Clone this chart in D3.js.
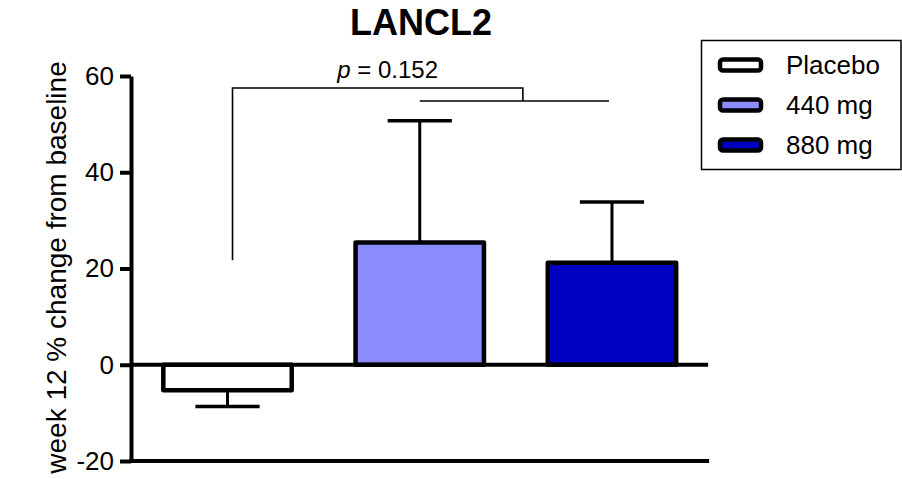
<!DOCTYPE html>
<html>
<head>
<meta charset="utf-8">
<script src="https://cdn.jsdelivr.net/npm/d3@7"></script>
<style>
  html, body { margin: 0; padding: 0; background: #fff; }
  svg { display: block; font-family: "Liberation Sans", Arial, Helvetica, sans-serif; }
</style>
</head>
<body>
<svg id="chart" width="902" height="479"></svg>
<script>
// Groups, mean % change and one-sided SEM
const groups = ["Placebo", "440 mg", "880 mg"];
const means = [-5.3, 25.4, 21.2];
const errors = [3.4, 25.3, 12.6];
const fills = ["#ffffff", "#8c8cff", "#0000c0"];
const yTicks = [-20, 0, 20, 40, 60];

// Significance bracket levels (in axis units) and its label
const bracketTop = 57.5;
const bracketLow = 54.8;
const bracketFoot = 21.7;
const pLabel = "0.152";

const svg = d3.select("#chart");

const x = d3.scaleBand()
  .domain(groups)
  .range([131.4, 708.1])
  .paddingInner(0.332)
  .paddingOuter(0.166);

const y = d3.scaleLinear()
  .domain([-20, 60])
  .range([461, 76]);

// Title
svg.append("text")
  .attr("x", 421).attr("y", 35)
  .attr("text-anchor", "middle")
  .attr("font-size", 36).attr("font-weight", "bold")
  .text("LANCL2");

// Y axis label
svg.append("text")
  .attr("transform", `translate(66,${(y(60) + y(-20)) / 2 - 1}) rotate(-90)`)
  .attr("text-anchor", "middle")
  .attr("font-size", 28)
  .text("week 12 % change from baseline");

// Y axis
const yAxis = svg.append("g")
  .attr("transform", `translate(${x.range()[0] - 0.4},0)`)
  .call(d3.axisLeft(y).tickValues(yTicks).tickSize(11).tickSizeOuter(0).tickPadding(6)
    .tickFormat(d => String(d)));
yAxis.select(".domain").attr("stroke-width", 4).attr("stroke", "#000");
yAxis.selectAll(".tick line").attr("stroke-width", 4).attr("stroke", "#000");
yAxis.selectAll(".tick text")
  .attr("font-size", 26).attr("fill", "#000")
  .attr("font-family", "'Liberation Sans', Arial, sans-serif");

// Bottom baseline at the axis minimum
svg.append("line")
  .attr("x1", x.range()[0] - 2).attr("x2", x.range()[1] + 1)
  .attr("y1", y(-20)).attr("y2", y(-20))
  .attr("stroke", "#000").attr("stroke-width", 4);

// Error bars (one-sided, away from zero)
const eb = svg.append("g");
groups.forEach((g, i) => {
  const cx = x(g) + x.bandwidth() / 2;
  const end = means[i] + Math.sign(means[i]) * errors[i];
  const capW = x.bandwidth() / 2;
  eb.append("line")
    .attr("x1", cx).attr("x2", cx)
    .attr("y1", y(means[i])).attr("y2", y(end))
    .attr("stroke", "#000").attr("stroke-width", 3);
  eb.append("line")
    .attr("x1", cx - capW / 2).attr("x2", cx + capW / 2)
    .attr("y1", y(end)).attr("y2", y(end))
    .attr("stroke", "#000").attr("stroke-width", 3.5);
});

// Bars
svg.append("g")
  .selectAll("rect")
  .data(groups)
  .join("rect")
  .attr("x", d => x(d))
  .attr("width", x.bandwidth())
  .attr("y", (d, i) => y(Math.max(0, means[i])))
  .attr("height", (d, i) => Math.abs(y(means[i]) - y(0)))
  .attr("fill", (d, i) => fills[i])
  .attr("stroke", "#000")
  .attr("stroke-width", 4.5)
  .attr("stroke-linejoin", "round");

// Zero line
svg.append("line")
  .attr("x1", x.range()[0]).attr("x2", x.range()[1])
  .attr("y1", y(0)).attr("y2", y(0))
  .attr("stroke", "#000").attr("stroke-width", 4);

// Significance bracket: placebo vs pooled active doses
const cxOf = g => x(g) + x.bandwidth() / 2;
const leftX = cxOf(groups[0]) + 5;
const midX = (cxOf(groups[1]) + cxOf(groups[2])) / 2 + 7;
const br = svg.append("g")
  .attr("fill", "none").attr("stroke", "#000").attr("stroke-width", 1.6);
br.append("path")
  .attr("d", `M${leftX},${y(bracketFoot)}V${y(bracketTop)}H${midX}V${y(bracketLow)}`);
br.append("line")
  .attr("x1", cxOf(groups[1])).attr("x2", cxOf(groups[2]) - 3)
  .attr("y1", y(bracketLow)).attr("y2", y(bracketLow));

const pText = svg.append("text")
  .attr("x", (leftX + midX) / 2 + 10).attr("y", y(bracketTop) - 10)
  .attr("text-anchor", "middle")
  .attr("font-size", 24);
pText.append("tspan").attr("font-style", "italic").text("p");
pText.append("tspan").text(" = " + pLabel);

// Legend
const legend = svg.append("g");
legend.append("rect")
  .attr("x", 701.5).attr("y", 40.5)
  .attr("width", 199.5).attr("height", 129)
  .attr("fill", "#fff").attr("stroke", "#000").attr("stroke-width", 1.5);
groups.forEach((g, i) => {
  const cy = 65 + i * 40;
  legend.append("rect")
    .attr("x", 720).attr("y", cy - 5.5)
    .attr("width", 41).attr("height", 11)
    .attr("rx", 3).attr("ry", 3)
    .attr("fill", fills[i]).attr("stroke", "#000").attr("stroke-width", 4.5);
  legend.append("text")
    .attr("x", 786).attr("y", cy + 9)
    .attr("font-size", 26)
    .text(g);
});
</script>
</body>
</html>
